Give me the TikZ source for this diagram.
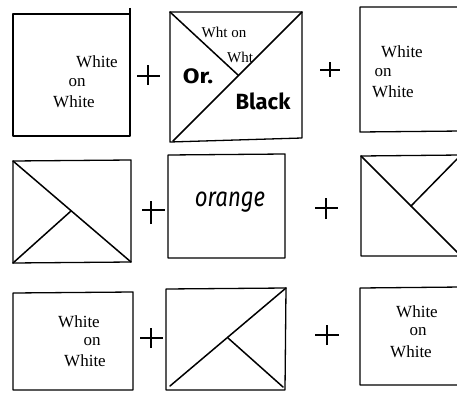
\documentclass[tikz,border=0pt]{standalone}
\usepackage{fontspec}
\setmainfont{Liberation Serif}
\newfontfamily\handfont{Fira Sans}
\begin{document}
\begin{tikzpicture}[x=1pt,y=-1pt,
  box/.style={line width=1.3pt, line join=round},
  diag/.style={line width=1.5pt, line cap=round},
  plusline/.style={line width=1.1pt},
  wow/.style={font=\fontsize{17}{19}\selectfont, inner sep=0pt},
  wht/.style={font=\fontsize{15}{17}\selectfont, inner sep=0pt},
  hand/.style={font=\handfont\bfseries\fontsize{22}{24}\selectfont, inner sep=0pt}]
\useasboundingbox (0,0) rectangle (457,393);
\clip (0,0) rectangle (457,393);

% ---------- Row 1 ----------
% Box A
\draw[box] (13,14) -- (130,14) -- (130,136) -- (13,136) -- cycle;
\draw[box] (130,8) -- (130,14);
\node[wow] (a1) at (97,62) {White};
\node[wow] (a2) at (77,83) {on};
\node[wow] (a3) at (74,102) {White};
% plus 1
\coordinate (p1) at (148,76);
\draw[plusline] ([xshift=-11pt]p1) -- ([xshift=12pt]p1);
\draw[plusline] ([yshift=-9pt]p1) -- ([yshift=11pt]p1);
% Box B
\coordinate (Btl) at (170,12);
\coordinate (Btr) at (302,12);
\coordinate (Bbr) at (302,138);
\coordinate (Bbl) at (170,142);
\coordinate (Bc) at (238,75);
\draw[box] (Btl) -- (Btr) -- (Bbr) -- (Bbl) -- cycle;
\draw[diag] (173,141) -- (Btr);
\draw[diag] (Btl) -- (Bc);
\node[wht] (b1) at (224,32) {Wht on};
\node[wht] (b2) at (240,57) {Wht};
\node[hand] (b3) at (198,76) {\scalebox{1.1}[0.95]{Or.}};
\node[hand] (b4) at (263,101) {Black};
% plus 2
\coordinate (p2) at (330,70);
\draw[plusline] ([xshift=-10pt]p2) -- ([xshift=10pt]p2);
\draw[plusline] ([yshift=-7pt]p2) -- ([yshift=8pt]p2);
% Box C
\draw[box] (462,7) -- (360,7) -- (360,132) -- (462,131);
\node[wow] (c1) at (402,52) {White};
\node[wow] (c2) at (383,73) {on};
\node[wow] (c3) at (393,92) {White};

% ---------- Row 2 ----------
% Box D
\coordinate (Dtl) at (13,161);
\coordinate (Dtr) at (131,160);
\coordinate (Dbr) at (131,262);
\coordinate (Dbl) at (13,263);
\coordinate (Dm) at (71,211);
\draw[box] (Dtl) -- (Dtr) -- (Dbr) -- (Dbl) -- cycle;
\draw[diag] (Dtl) -- (Dbr);
\draw[diag] (Dbl) -- (Dm);
% plus 3
\coordinate (p3) at (151,210);
\draw[plusline] ([xshift=-9pt]p3) -- ([xshift=14pt]p3);
\draw[plusline] ([yshift=-14pt]p3) -- ([yshift=9pt]p3);
% Box E
\draw[box] (168,155) -- (285,154) -- (285,258) -- (168,258) -- cycle;
\node[hand, font=\handfont\itshape\fontsize{27}{29}\selectfont] (e1) at (230,202) {\scalebox{0.82}[1]{orange}};
% plus 4
\coordinate (p4) at (326,208);
\draw[plusline] ([xshift=-11pt]p4) -- ([xshift=12pt]p4);
\draw[plusline] ([yshift=-11pt]p4) -- ([yshift=10pt]p4);
% Box F
\coordinate (Ftl) at (361,156);
\coordinate (Ftr) at (461,155);
\coordinate (Fbr) at (461,256);
\coordinate (Fbl) at (361,256);
\coordinate (Fm) at (411,206);
\draw[box] (Ftr) -- (Ftl) -- (Fbl) -- (Fbr);
\draw[diag] (Ftl) -- (Fbr);
\draw[diag] (Ftr) -- (Fm);

% ---------- Row 3 ----------
% Box G
\draw[box] (13,293) -- (133,292) -- (133,390) -- (13,390) -- cycle;
\node[wow] (g1) at (79,322) {White};
\node[wow] (g2) at (92,342) {on};
\node[wow] (g3) at (85,361) {White};
% plus 5
\coordinate (p5) at (151,338);
\draw[plusline] ([xshift=-11pt]p5) -- ([xshift=12pt]p5);
\draw[plusline] ([yshift=-10pt]p5) -- ([yshift=10pt]p5);
% Box H
\coordinate (Htl) at (166,289);
\coordinate (Htr) at (286,288);
\coordinate (Hbr) at (285,390);
\coordinate (Hbl) at (166,390);
\coordinate (Hm) at (228,338);
\draw[box] (Htl) -- (Htr) -- (Hbr) -- (Hbl) -- cycle;
\draw[diag] (170,386) -- (Htr);
\draw[diag] (Hm) -- (283,387);
% plus 6
\coordinate (p6) at (327,335);
\draw[plusline] ([xshift=-12pt]p6) -- ([xshift=12pt]p6);
\draw[plusline] ([yshift=-10pt]p6) -- ([yshift=10pt]p6);
% Box I
\draw[box] (462,287) -- (360,288) -- (360,385) -- (462,385);
\node[wow] (i1) at (417,312) {White};
\node[wow] (i2) at (418,332) {on};
\node[wow] (i3) at (411,352) {White};
\end{tikzpicture}
\end{document}
